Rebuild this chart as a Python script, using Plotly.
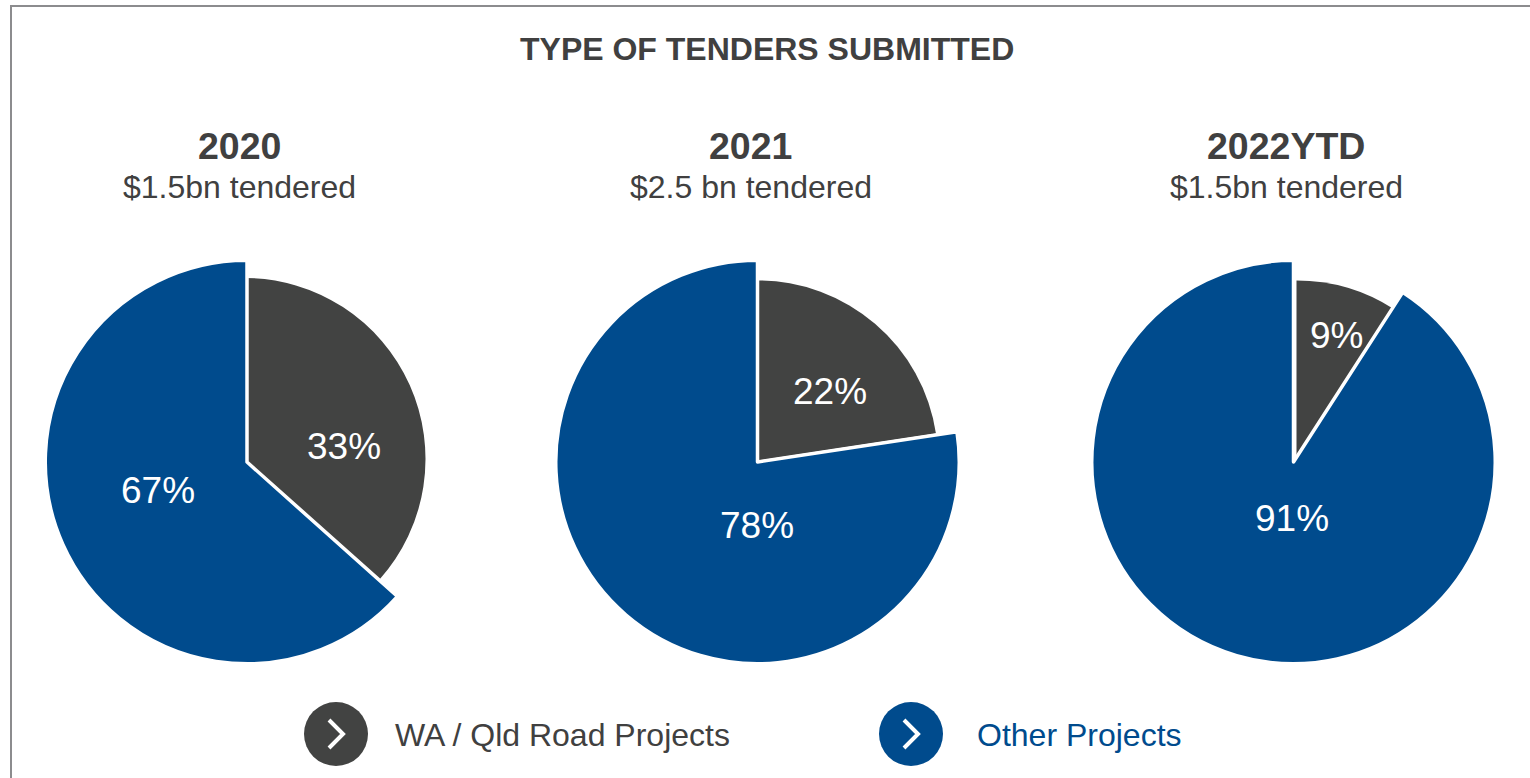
import plotly.graph_objects as go

W, H = 1530, 778

chart_title = "TYPE OF TENDERS SUBMITTED"
years = ["2020", "2021", "2022YTD"]
tendered = ["$1.5bn tendered", "$2.5 bn tendered", "$1.5bn tendered"]
categories = ["WA / Qld Road Projects", "Other Projects"]
# slice shares as drawn in the picture (percent)
road_share = [36.6, 22.6, 9.1]
other_share = [63.4, 77.4, 90.9]
# printed labels
road_labels = ["33%", "22%", "9%"]
other_labels = ["67%", "78%", "91%"]

BLUE = "#004B8D"
DARK = "#424342"
TEXT = "#404040"
CLEAR = "rgba(0,0,0,0)"
FONT = "Liberation Sans"
GAP = 3.5

outer_centers = [(247, 462), (757.5, 462), (1293.5, 462)]
R_OUT = 200 + GAP / 2
inner_centers = [(244.5, 459), (758, 460.5), (1296.5, 461)]
inner_radii = [181, 180, 180.5]
road_label_pos = [(344, 447), (830, 391), (1336, 335)]
other_label_pos = [(158, 491), (757, 525), (1292, 518)]
head_x = [239, 750, 1286]
sub_x = [239, 751, 1286]


def px(x):
    return x / W


def py(y):
    return 1 - y / H


def dom(cx, cy, r):
    return dict(x=[px(cx - r), px(cx + r)], y=[py(cy + r), py(cy - r)])


fig = go.Figure()
# dark slices first, blue slices (with their white edge) on top
for i, (cx, cy) in enumerate(inner_centers):
    vals = [road_share[i], other_share[i]]
    fig.add_trace(go.Pie(
        labels=categories, values=vals, sort=False, direction="clockwise", rotation=0,
        domain=dom(cx, cy, inner_radii[i]), textinfo="none", showlegend=False, hoverinfo="skip",
        marker=dict(colors=[DARK, CLEAR], line=dict(width=0)),
    ))
for i, (cx, cy) in enumerate(outer_centers):
    vals = [road_share[i], other_share[i]]
    fig.add_trace(go.Pie(
        labels=categories, values=vals, sort=False, direction="clockwise", rotation=0,
        domain=dom(cx, cy, R_OUT), textinfo="none", showlegend=False, hoverinfo="label+percent",
        marker=dict(colors=[CLEAR, BLUE], line=dict(width=[0, GAP], color=[CLEAR, "#FFFFFF"])),
    ))


def note(x, y, text, size, color=TEXT, bold=False, anchor="center"):
    fig.add_annotation(
        x=px(x), y=py(y), xref="paper", yref="paper", showarrow=False,
        text=f"<b>{text}</b>" if bold else text, xanchor=anchor, yanchor="middle",
        font=dict(family=FONT, size=size, color=color),
    )


note(767, 49, chart_title, 32, bold=True)
for i in range(3):
    note(head_x[i], 146, years[i], 37.5, bold=True)
    note(sub_x[i], 187.5, tendered[i], 32)
    note(*road_label_pos[i], road_labels[i], 37, color="#FFFFFF")
    note(*other_label_pos[i], other_labels[i], 37, color="#FFFFFF")
note(393, 735, categories[0], 32, anchor="left")
note(975, 735, categories[1], 32, color=BLUE, anchor="left")

shapes = [
    dict(type="line", xref="paper", yref="paper", x0=px(11), x1=px(11), y0=0, y1=py(5),
         line=dict(color="#8C8C8E", width=2)),
    dict(type="line", xref="paper", yref="paper", x0=px(10), x1=1, y0=py(6), y1=py(6),
         line=dict(color="#8C8C8E", width=2)),
]
for cx, col in ((336, DARK), (911, BLUE)):
    shapes.append(dict(type="circle", xref="paper", yref="paper", x0=px(cx - 32), x1=px(cx + 32),
                       y0=py(734 + 32), y1=py(734 - 32), fillcolor=col, line=dict(width=0)))
    shapes.append(dict(type="path", xref="paper", yref="paper",
                       path=f"M {px(cx - 7)} {py(720)} L {px(cx + 7)} {py(734)} L {px(cx - 7)} {py(748)}",
                       line=dict(color="#FFFFFF", width=4)))

fig.update_layout(
    width=W, height=H, margin=dict(l=0, r=0, t=0, b=0),
    paper_bgcolor="#FFFFFF", plot_bgcolor="#FFFFFF", showlegend=False, shapes=shapes,
    font=dict(family=FONT),
)
fig.write_html("out.html", config={"displayModeBar": False},
               post_script="document.body.style.margin='0';document.body.style.overflow='hidden';")
